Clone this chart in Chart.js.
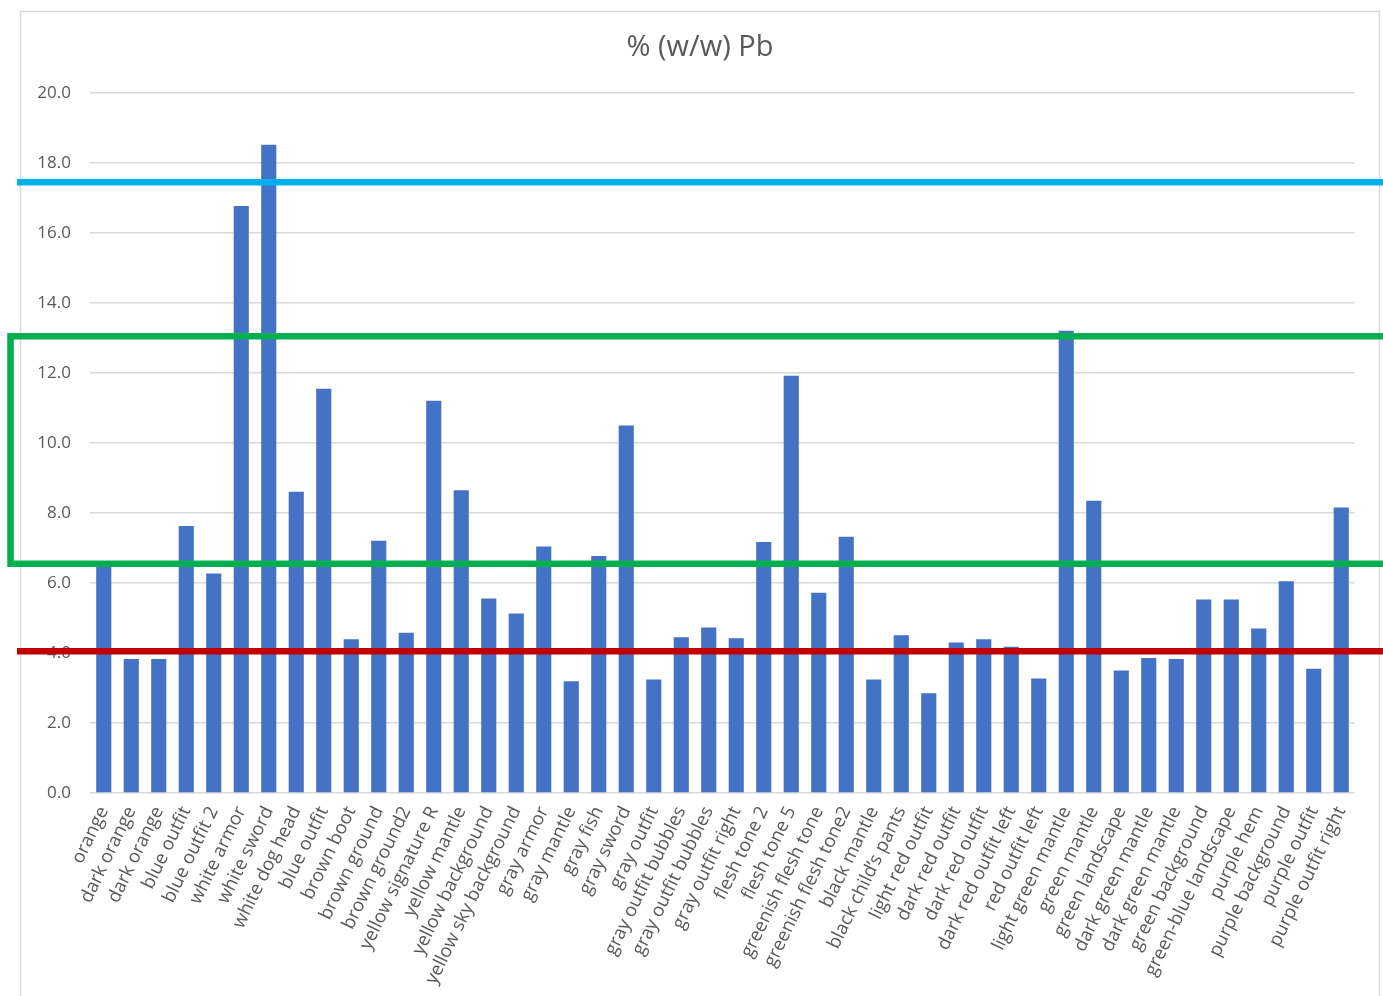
<!DOCTYPE html>
<html>
<head>
<meta charset="utf-8">
<script src="https://cdn.jsdelivr.net/npm/chart.js@4"></script>
<style>
  html, body { margin: 0; padding: 0; background: #ffffff; overflow: hidden; }
  canvas { display: block; }
</style>
</head>
<body>
<canvas id="pb" width="1383" height="996"></canvas>
<script>
// Sample areas measured for lead content
const categories = [
  "orange", "dark orange", "dark orange", "blue outfit", "blue outfit 2",
  "white armor", "white sword", "white dog head", "blue outfit", "brown boot",
  "brown ground", "brown ground2", "yellow signature R", "yellow mantle",
  "yellow background", "yellow sky background", "gray armor", "gray mantle",
  "gray fish", "gray sword", "gray outfit", "gray outfit bubbles",
  "gray outfit bubbles", "gray outfit right", "flesh tone 2", "flesh tone 5",
  "greenish flesh tone", "greenish flesh tone2", "black mantle",
  "black child\u2019s pants", "light red outfit", "dark red outfit",
  "dark red outfit", "dark red outfit left", "red outfit left",
  "light green mantle", "green mantle", "green landscape", "dark green mantle",
  "dark green mantle", "green background", "green-blue landscape", "purple hem",
  "purple background", "purple outfit", "purple outfit right"
];

// % (w/w) Pb per area
const pbValues = [
  6.46, 3.83, 3.83, 7.63, 6.27,
  16.77, 18.52, 8.61, 11.55, 4.39,
  7.21, 4.58, 11.21, 8.65,
  5.56, 5.13, 7.04, 3.19,
  6.77, 10.50, 3.24, 4.45,
  4.73, 4.42, 7.17, 11.92,
  5.72, 7.32, 3.24,
  4.51, 2.85, 4.30,
  4.39, 4.18, 3.27,
  13.21, 8.35, 3.50, 3.86,
  3.83, 5.53, 5.53, 4.70,
  6.05, 3.55, 8.16
];

// y-axis ticks
const yTicks = [0, 2, 4, 6, 8, 10, 12, 14, 16, 18, 20];

// Reference levels marked on the chart
const upperLevel = [17.45];
const bandLevels = [6.55, 13.05];
const lowerLevel = [4.05];

const TITLE = '% (w/w) Pb';
const FONT = "'Open Sans', 'Noto Sans', sans-serif";
const TEXT = '#595959';

// White background, outer frame and the centred title
const framePlugin = {
  id: 'frame',
  beforeDraw(chart) {
    const ctx = chart.ctx;
    ctx.save();
    ctx.fillStyle = '#ffffff';
    ctx.fillRect(0, 0, chart.width, chart.height);
    ctx.strokeStyle = '#D9D9D9';
    ctx.lineWidth = 1.5;
    ctx.strokeRect(20.5, 11.5, 1359, 1010);
    ctx.fillStyle = TEXT;
    ctx.font = '29px ' + FONT;
    ctx.textAlign = 'center';
    ctx.textBaseline = 'middle';
    ctx.fillText(TITLE, 700, 48);
    ctx.restore();
  }
};

// Threshold lines and band drawn over the bars
const levelsPlugin = {
  id: 'levels',
  afterDraw(chart) {
    const ctx = chart.ctx;
    const ys = chart.scales.y;
    ctx.save();
    ctx.lineWidth = 6.5;
    ctx.lineCap = 'butt';

    ctx.strokeStyle = '#00B0F0';
    ctx.beginPath();
    const yu = ys.getPixelForValue(upperLevel[0]);
    ctx.moveTo(17, yu); ctx.lineTo(chart.width + 5, yu);
    ctx.stroke();

    ctx.strokeStyle = '#00B050';
    const yTop = ys.getPixelForValue(bandLevels[1]);
    const yBot = ys.getPixelForValue(bandLevels[0]);
    ctx.strokeRect(10.5, yTop, chart.width + 20, yBot - yTop);

    ctx.strokeStyle = '#C00000';
    ctx.beginPath();
    const yl = ys.getPixelForValue(lowerLevel[0]);
    ctx.moveTo(17, yl); ctx.lineTo(chart.width + 5, yl);
    ctx.stroke();
    ctx.restore();
  }
};

new Chart(document.getElementById('pb'), {
  type: 'bar',
  data: {
    labels: categories,
    datasets: [{
      label: TITLE,
      data: pbValues,
      backgroundColor: '#4472C4',
      borderWidth: 0,
      barPercentage: 1.0,
      categoryPercentage: 0.55
    }]
  },
  options: {
    responsive: false,
    animation: false,
    devicePixelRatio: 1,
    layout: { padding: { left: 20, right: 28, top: 93, bottom: 0 } },
    plugins: {
      legend: { display: false },
      tooltip: { enabled: false },
      title: { display: false }
    },
    scales: {
      x: {
        grid: { display: false },
        border: { display: false },
        ticks: {
          autoSkip: false,
          maxRotation: 64,
          minRotation: 64,
          color: TEXT,
          font: { family: FONT, size: 18.5 },
          padding: 2
        },
        afterFit(s) { s.height = 203; }
      },
      y: {
        min: 0,
        max: 20,
        afterBuildTicks(s) { s.ticks = yTicks.map(v => ({ value: v })); },
        ticks: {
          color: TEXT,
          font: { family: FONT, size: 17 },
          padding: 19,
          callback: v => Number(v).toFixed(1)
        },
        grid: { color: '#D9D9D9', lineWidth: 1.5, drawTicks: false },
        border: { display: false },
        afterFit(s) { s.width = 70; }
      }
    }
  },
  plugins: [framePlugin, levelsPlugin]
});
</script>
</body>
</html>
